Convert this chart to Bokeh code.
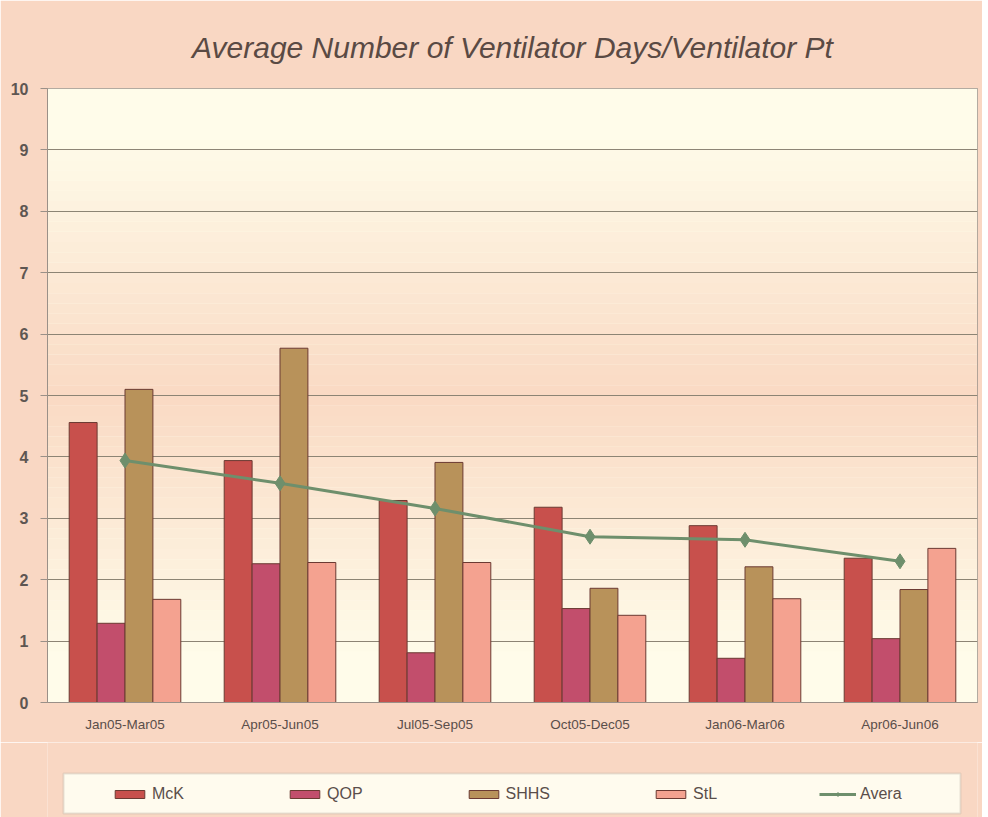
from bokeh.plotting import figure
from bokeh.layouts import column
from bokeh.models import FactorRange, Legend, LegendItem, BoxAnnotation, ColumnDataSource, FixedTicker
from bokeh.transform import dodge
from bokeh.embed import file_html
from bokeh.resources import INLINE
import numpy as np

periods = ["Jan05-Mar05", "Apr05-Jun05", "Jul05-Sep05", "Oct05-Dec05", "Jan06-Mar06", "Apr06-Jun06"]
mck = [4.56, 3.94, 3.29, 3.18, 2.88, 2.35]
qop = [1.29, 2.26, 0.81, 1.53, 0.72, 1.04]
shhs = [5.10, 5.77, 3.91, 1.86, 2.21, 1.84]
stl = [1.68, 2.28, 2.28, 1.42, 1.69, 2.51]
avera = [3.94, 3.57, 3.16, 2.70, 2.65, 2.30]
series_names = ["McK", "QOP", "SHHS", "StL"]
series_colors = ["#C8504C", "#C24E6C", "#B8925A", "#F4A290"]
line_color = "#6E8F6C"
bar_outline = "#6B3A32"
outer_bg = "#F9D7C3"

src = ColumnDataSource(dict(period=periods, McK=mck, QOP=qop, SHHS=shhs, StL=stl, Avera=avera))

p = figure(x_range=FactorRange(*periods, range_padding=0), y_range=(0, 10),
           frame_width=930, frame_height=614, output_backend="svg", toolbar_location=None,
           min_border_left=47, min_border_right=5, min_border_top=88, min_border_bottom=40)

p.background_fill_color = "#FFFCEA"
p.border_fill_color = outer_bg
p.outline_line_color = "#9A9088"

# soft vertical gradient of plot background (decoration)
cream = np.array([255, 252, 234])
peach = np.array([250, 218, 196])
n = 60
for i in range(n):
    y0 = 10 * i / n
    y1 = 10 * (i + 1) / n
    ym = (y0 + y1) / 2
    f = max(0.0, 1 - abs(ym - 5.0) / 4.2)
    c = (cream + (peach - cream) * f).astype(int)
    p.add_layout(BoxAnnotation(bottom=y0, top=y1, fill_color="#%02x%02x%02x" % tuple(c),
                               fill_alpha=1, line_alpha=0, level="image"))

offsets = [-0.27, -0.09, 0.09, 0.27]
for name, col, off in zip(series_names, series_colors, offsets):
    p.vbar(x=dodge("period", off, range=p.x_range), top=name, width=0.18, source=src,
           fill_color=col, line_color=bar_outline, line_width=1)

p.line(x="period", y="Avera", source=src, line_color=line_color, line_width=3)
p.scatter(x="period", y="Avera", source=src, marker="diamond", size=15,
          fill_color=line_color, line_color=line_color)

# title
p.title.text = "Average Number of Ventilator Days/Ventilator Pt"
p.title.align = "center"
p.title.offset = -21
p.title.text_font = "Liberation Sans"
p.title.text_font_style = "italic"
p.title.text_font_size = "30px"
p.title.text_color = "#5A4A44"
p.title.standoff = 50

# axes
p.yaxis.ticker = FixedTicker(ticks=list(range(0, 11)))
p.yaxis.major_label_text_font = "Liberation Sans"
p.yaxis.major_label_text_font_style = "bold"
p.yaxis.major_label_text_font_size = "16px"
p.yaxis.major_label_text_color = "#5E5652"
p.yaxis.axis_line_color = "#9A9088"
p.yaxis.major_tick_line_color = "#9A9088"
p.yaxis.major_tick_out = 7
p.yaxis.major_tick_in = 0
p.yaxis.minor_tick_line_color = None
p.yaxis.major_label_standoff = 12

p.xaxis.major_label_text_font = "Liberation Sans"
p.xaxis.major_label_text_font_size = "13.5px"
p.xaxis.major_label_text_color = "#5A4E4A"
p.xaxis.axis_line_color = "#9A9088"
p.xaxis.major_tick_line_color = None
p.xaxis.major_label_standoff = 8

p.xgrid.grid_line_color = None
p.ygrid.grid_line_color = "#8C8474"
p.ygrid.grid_line_width = 1.2

# legend strip below the chart (frame aligned with the chart frame, 1 data unit = 1 px)
pl = figure(x_range=(0, 930), y_range=(0, 75),
            frame_width=930, frame_height=75, output_backend="svg", toolbar_location=None,
            min_border_left=47, min_border_right=5, min_border_top=0, min_border_bottom=0)
pl.axis.visible = False
pl.grid.visible = False
pl.outline_line_color = None
pl.background_fill_color = outer_bg
pl.border_fill_color = outer_bg
pl.add_layout(BoxAnnotation(left=16, right=913, bottom=4, top=44, fill_color="#FFFBEE", fill_alpha=1,
                            line_color="#B0A89C", line_width=2, level="underlay"))
leg_r = []
for name, col in zip(series_names, series_colors):
    leg_r.append(pl.vbar(x="Avera", top=name, width=0.1, source=src, fill_color=col,
                         line_color=bar_outline, visible=False))
lr = pl.line(x="Avera", y="Avera", source=src, line_color=line_color, line_width=3, visible=False)
sr = pl.scatter(x="Avera", y="Avera", source=src, marker="diamond", size=12,
                fill_color=line_color, line_color=line_color, visible=False)

legend = Legend(items=[LegendItem(label=n_, renderers=[r]) for n_, r in zip(series_names, leg_r)]
                + [LegendItem(label="Avera", renderers=[lr, sr])],
                orientation="horizontal", location=(64, 14))
legend.label_text_font = "Liberation Sans"
legend.label_text_font_size = "16px"
legend.label_text_color = "#5A4E4A"
legend.background_fill_alpha = 0
legend.border_line_alpha = 0
legend.inactive_fill_alpha = 0
legend.glyph_width = 37
legend.glyph_height = 10
legend.label_standoff = 4
legend.spacing = 102
legend.padding = 0
legend.margin = 0
pl.add_layout(legend, "center")

layout = column(p, pl, spacing=0)
open("out.html", "w").write(file_html(layout, INLINE))
